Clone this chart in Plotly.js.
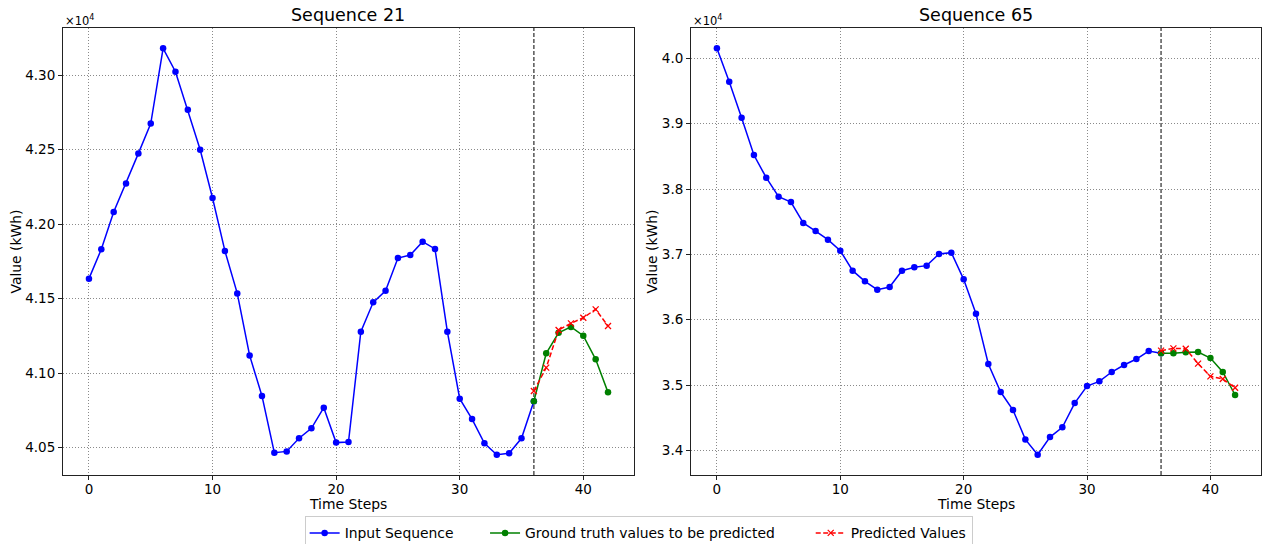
<!DOCTYPE html>
<html>
<head>
<meta charset="utf-8">
<script src="https://cdn.plot.ly/plotly-3.0.1.min.js"></script>
<style>
  html, body { margin: 0; padding: 0; background: #fff; }
  #chart { width: 1263px; height: 544px; }
</style>
</head>
<body>
<div id="chart"></div>
<script>
// Values shown in units of ×10^4 kWh, as on the axes
const seq21Title = 'Sequence 21';
const seq65Title = 'Sequence 65';
const inputSteps = [0,1,2,3,4,5,6,7,8,9,10,11,12,13,14,15,16,17,18,19,20,21,22,23,24,25,26,27,28,29,30,31,32,33,34,35,36];
const futureSteps = [36,37,38,39,40,41,42];

const seq21Input = [4.1634,4.1831,4.2081,4.2273,4.2474,4.2674,4.3179,4.3022,4.2767,4.2499,4.2175,4.1820,4.1535,4.1119,4.0847,4.0466,4.0475,4.0563,4.0630,4.0768,4.0534,4.0538,4.1278,4.1475,4.1553,4.1772,4.1792,4.1882,4.1833,4.1278,4.0829,4.0692,4.0529,4.0453,4.0462,4.0563,4.0811];
const seq21Truth = [4.0811,4.1133,4.1271,4.1310,4.1251,4.1093,4.0871];
const seq21Pred  = [4.0880,4.1037,4.1289,4.1334,4.1372,4.1428,4.1316];

const seq65Input = [4.0153,3.9643,3.9092,3.8520,3.8173,3.7883,3.7801,3.7480,3.7357,3.7224,3.7056,3.6750,3.6587,3.6459,3.6500,3.6750,3.6801,3.6827,3.7005,3.7026,3.6617,3.6092,3.5321,3.4893,3.4617,3.4168,3.3934,3.4204,3.4352,3.4724,3.4985,3.5056,3.5199,3.5306,3.5398,3.5520,3.5485];
const seq65Truth = [3.5485,3.5485,3.5500,3.5505,3.5413,3.5199,3.4847];
const seq65Pred  = [3.5526,3.5561,3.5556,3.5327,3.5133,3.5092,3.4959];

const splitStep = 36;
const seriesNames = ['Input Sequence', 'Ground truth values to be predicted', 'Predicted Values'];
const xTitle = 'Time Steps';
const yTitle = 'Value (kWh)';
const offsetText = '×10<sup>4</sup>';

const FONT = 'DejaVu Sans, Liberation Sans, sans-serif';
const GAP1 = '\u00a0'.repeat(6);
const GAP2 = '\u00a0'.repeat(7);

function paddedRange(arrs) {
  const all = [].concat(...arrs);
  const mn = Math.min(...all), mx = Math.max(...all);
  const pad = (mx - mn) * 0.05;
  return [mn - pad, mx + pad];
}

function traces(inp, truth, pred, xa, ya, showLegend) {
  return [
    {x: inputSteps, y: inp, xaxis: xa, yaxis: ya, mode: 'lines+markers', name: seriesNames[0] + GAP1,
     line: {color: '#0000ff', width: 1.5}, marker: {color: '#0000ff', size: 6.5, symbol: 'circle'},
     showlegend: showLegend, legendgroup: 'a'},
    {x: futureSteps, y: truth, xaxis: xa, yaxis: ya, mode: 'lines+markers', name: seriesNames[1] + GAP2,
     line: {color: '#008000', width: 1.5}, marker: {color: '#008000', size: 6.5, symbol: 'circle'},
     showlegend: showLegend, legendgroup: 'b'},
    {x: futureSteps, y: pred, xaxis: xa, yaxis: ya, mode: 'lines+markers', name: seriesNames[2],
     line: {color: '#ff0000', width: 1.5, dash: '5px,2.5px'}, marker: {color: '#ff0000', size: 6, symbol: 'x-thin-open', line: {color: '#ff0000', width: 1.3}},
     showlegend: showLegend, legendgroup: 'c'}
  ];
}

const data = [].concat(
  traces(seq21Input, seq21Truth, seq21Pred, 'x', 'y', true),
  traces(seq65Input, seq65Truth, seq65Pred, 'x2', 'y2', false)
);

const axisCommon = {
  showline: true, mirror: true, linecolor: '#222', linewidth: 1,
  ticks: 'outside', ticklen: 4, tickwidth: 1, tickcolor: '#222',
  showgrid: true, gridcolor: 'rgba(60,60,60,0.75)', gridwidth: 0.8, griddash: '1.2px,1.8px',
  zeroline: false, tickfont: {family: FONT, size: 13.5, color: '#000'}
};

const xCommon = Object.assign({}, axisCommon, {
  range: [-2.1, 44.1], dtick: 10, tick0: 0, ticklabelstandoff: -2
});

const titleFont = {family: FONT, size: 13.9, color: '#000'};

const layout = {
  width: 1263, height: 544,
  paper_bgcolor: '#fff', plot_bgcolor: '#fff',
  margin: {l: 63, r: 2, t: 28, b: 69, autoexpand: false},
  font: {family: FONT, color: '#000'},
  xaxis: Object.assign({}, xCommon, {domain: [0, 0.4766], anchor: 'y'}),
  xaxis2: Object.assign({}, xCommon, {domain: [0.5242, 1], anchor: 'y2'}),
  yaxis: Object.assign({}, axisCommon, {
    range: paddedRange([seq21Input, seq21Truth, seq21Pred]), dtick: 0.05, tick0: 4.0, tickformat: '.2f',
    anchor: 'x', title: {text: yTitle, font: titleFont, standoff: 0}
  }),
  yaxis2: Object.assign({}, axisCommon, {
    range: paddedRange([seq65Input, seq65Truth, seq65Pred]), dtick: 0.1, tick0: 3.0, tickformat: '.1f',
    anchor: 'x2', title: {text: yTitle, font: titleFont, standoff: 0}
  }),
  shapes: [
    {type: 'line', xref: 'x', yref: 'y domain', x0: splitStep, x1: splitStep, y0: 0, y1: 1,
     line: {color: '#555', width: 1.5, dash: '4px,2px'}, layer: 'below'},
    {type: 'line', xref: 'x2', yref: 'y2 domain', x0: splitStep, x1: splitStep, y0: 0, y1: 1,
     line: {color: '#555', width: 1.5, dash: '4px,2px'}, layer: 'below'}
  ],
  annotations: [
    {text: seq21Title, xref: 'x domain', yref: 'y domain', x: 0.5, y: 1, xanchor: 'center', yanchor: 'bottom',
     yshift: 1, showarrow: false, font: {family: FONT, size: 17.5, color: '#000'}},
    {text: seq65Title, xref: 'x2 domain', yref: 'y2 domain', x: 0.5, y: 1, xanchor: 'center', yanchor: 'bottom',
     yshift: 1, showarrow: false, font: {family: FONT, size: 17.5, color: '#000'}},
    {text: offsetText, xref: 'x domain', yref: 'y domain', x: 0, y: 1, xanchor: 'left', yanchor: 'bottom',
     yshift: -2, showarrow: false, font: {family: FONT, size: 11.5, color: '#000'}},
    {text: offsetText, xref: 'x2 domain', yref: 'y2 domain', x: 0, y: 1, xanchor: 'left', yanchor: 'bottom',
     yshift: -2, showarrow: false, font: {family: FONT, size: 11.5, color: '#000'}},
    {text: xTitle, xref: 'x domain', yref: 'y domain', x: 0.5, y: 0, xanchor: 'center', yanchor: 'top',
     yshift: -19, showarrow: false, font: titleFont},
    {text: xTitle, xref: 'x2 domain', yref: 'y2 domain', x: 0.5, y: 0, xanchor: 'center', yanchor: 'top',
     yshift: -19, showarrow: false, font: titleFont}
  ],
  legend: {
    orientation: 'h', x: 0.4805, xanchor: 'center', xref: 'paper',
    y: -0.0925, yanchor: 'top', yref: 'paper',
    bgcolor: '#fff', bordercolor: '#cccccc', borderwidth: 1,
    font: {family: FONT, size: 13.9, color: '#000'},
    itemwidth: 30, tracegroupgap: 0
  },
  showlegend: true
};

Plotly.newPlot('chart', data, layout, {displayModeBar: false, staticPlot: true});
</script>
</body>
</html>
